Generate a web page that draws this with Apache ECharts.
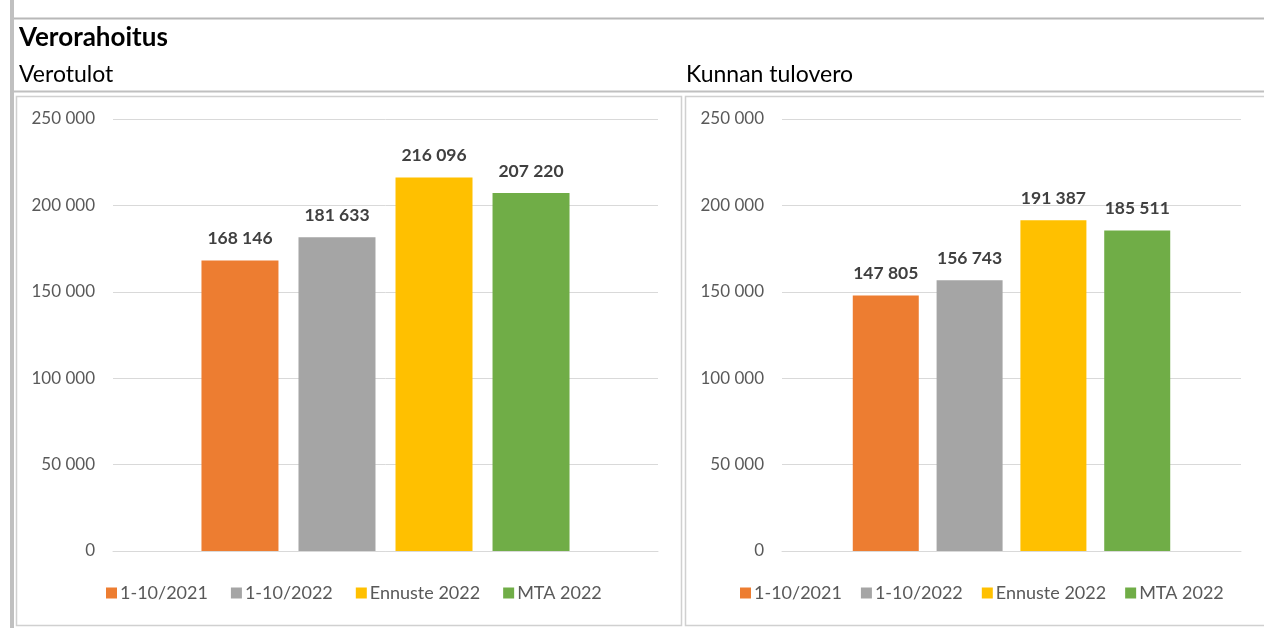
<!DOCTYPE html>
<html lang="fi">
<head>
    <meta charset="UTF-8">
    <title>Verorahoitus</title>
    <style>
        html, body { margin: 0; padding: 0; background: #fff; }
        #main { width: 1264px; height: 628px; }
    </style>
</head>
<body>
    <div id="main"></div>
    <script src="https://cdn.jsdelivr.net/npm/echarts@6/dist/echarts.min.js"></script>
    <script>
        // sarjat (legend) ja arvot
        var seriesNames = ['1-10/2021', '1-10/2022', 'Ennuste 2022', 'MTA 2022'];
        var seriesColors = ['#ED7D31', '#A5A5A5', '#FFC000', '#70AD47'];
        var verotulot = [168146, 181633, 216096, 207220];
        var kunnanTulovero = [147805, 156743, 191387, 185511];
        var yTicks = [0, 50000, 100000, 150000, 200000, 250000];

        var FONT = 'Lato';

        function fmt(v) {
            return String(v).replace(/\B(?=(\d{3})+(?!\d))/g, ' ');
        }

        function yAxisFor(gridIndex) {
            return {
                type: 'value',
                gridIndex: gridIndex,
                min: yTicks[0],
                max: yTicks[yTicks.length - 1],
                interval: yTicks[1] - yTicks[0],
                axisLine: { show: false },
                axisTick: { show: false },
                axisLabel: {
                    color: '#595959',
                    fontFamily: FONT,
                    fontSize: 17,
                    margin: 18,
                    formatter: function (v) { return fmt(v); }
                },
                splitLine: { lineStyle: { color: '#D9D9D9', width: 1 } }
            };
        }

        function xAxisFor(gridIndex) {
            return {
                type: 'category',
                gridIndex: gridIndex,
                data: [''],
                axisLine: { lineStyle: { color: '#D9D9D9', width: 1 } },
                axisTick: { show: false },
                axisLabel: { show: false }
            };
        }

        function barsFor(values, gridIndex, barWidth, barGap) {
            return values.map(function (v, i) {
                return {
                    name: seriesNames[i],
                    type: 'bar',
                    xAxisIndex: gridIndex,
                    yAxisIndex: gridIndex,
                    data: [v],
                    barWidth: barWidth,
                    barGap: barGap,
                    itemStyle: { color: seriesColors[i] },
                    label: {
                        show: true,
                        position: 'top',
                        distance: 13,
                        color: '#404040',
                        fontFamily: FONT,
                        fontWeight: 'bold',
                        fontSize: 17.5,
                        formatter: function (p) { return fmt(p.value); }
                    }
                };
            });
        }

        function legendAt(left, gap) {
            return {
                data: seriesNames,
                left: left,
                top: 584,
                padding: 0,
                icon: 'rect',
                itemWidth: 11,
                itemHeight: 11,
                itemGap: gap,
                selectedMode: false,
                textStyle: { color: '#595959', fontFamily: FONT, fontSize: 18, padding: [0, 0, 0, -2] }
            };
        }

        var frame = '#D0D0D0';
        var chart = echarts.init(document.getElementById('main'));
        chart.setOption({
            animation: false,
            backgroundColor: '#fff',
            title: [
                { text: 'Verorahoitus', left: 19, top: 25, padding: 0,
                  textStyle: { fontFamily: FONT, fontSize: 26, fontWeight: 'bold', color: '#000' } },
                { text: 'Verotulot', left: 19, top: 63, padding: 0,
                  textStyle: { fontFamily: FONT, fontSize: 23, fontWeight: 'normal', color: '#000' } },
                { text: 'Kunnan tulovero', left: 686, top: 63, padding: 0,
                  textStyle: { fontFamily: FONT, fontSize: 23, fontWeight: 'normal', color: '#000' } }
            ],
            graphic: [
                { type: 'rect', shape: { x: 10, y: 0, width: 4, height: 628 }, style: { fill: '#C0C0C0' }, silent: true },
                { type: 'line', shape: { x1: 14, y1: 18.5, x2: 1264, y2: 18.5 }, style: { stroke: '#B8B8B8', lineWidth: 2 }, silent: true },
                { type: 'line', shape: { x1: 14, y1: 91.5, x2: 1264, y2: 91.5 }, style: { stroke: '#C0C0C0', lineWidth: 2 }, silent: true },
                { type: 'rect', shape: { x: 16.5, y: 96.5, width: 665, height: 529 }, style: { fill: 'none', stroke: frame, lineWidth: 1.5 }, silent: true },
                { type: 'rect', shape: { x: 685.5, y: 96.5, width: 590, height: 529 }, style: { fill: 'none', stroke: frame, lineWidth: 1.5 }, silent: true }
            ],
            legend: [legendAt(106, 23), legendAt(740, 19)],
            grid: [
                { left: 113, right: 606, top: 119, bottom: 77 },
                { left: 782, right: 23, top: 119, bottom: 77 }
            ],
            xAxis: [xAxisFor(0), xAxisFor(1)],
            yAxis: [yAxisFor(0), yAxisFor(1)],
            series: barsFor(verotulot, 0, 77, '26%').concat(barsFor(kunnanTulovero, 1, 66, '27%'))
        });
    </script>
</body>
</html>
